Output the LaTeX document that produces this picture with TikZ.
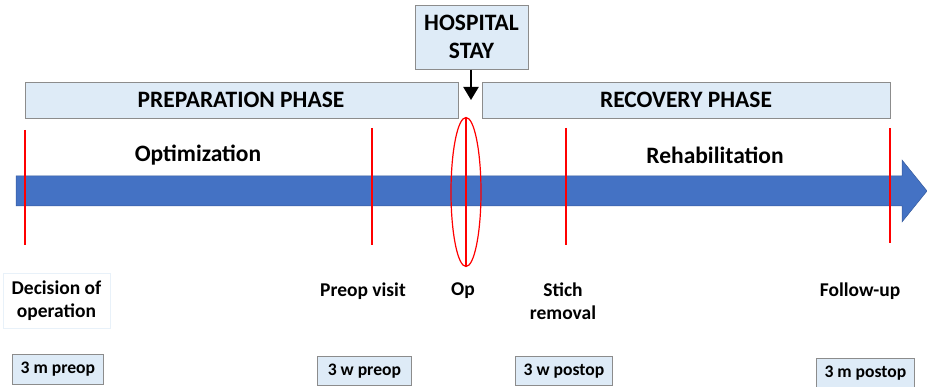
\documentclass[tikz,border=0pt]{standalone}
\usepackage{fontspec}
\setmainfont{Carlito}
\usetikzlibrary{shapes.geometric,arrows.meta}
\definecolor{boxfill}{HTML}{DEEBF7}
\definecolor{boxdraw}{HTML}{8C8C8C}
\definecolor{arrowblue}{HTML}{4472C4}
\definecolor{redline}{HTML}{FF0000}
\tikzset{
  phase/.style={draw=boxdraw, fill=boxfill, line width=0.8pt},
  timebox/.style={draw=boxdraw, fill=boxfill, line width=0.8pt, inner sep=0pt, font=\bfseries\fontsize{17.6}{18}\selectfont},
  bigtxt/.style={font=\bfseries\fontsize{23.5}{28}\selectfont, inner sep=0pt},
  midtxt/.style={font=\bfseries\fontsize{19.5}{23}\selectfont, inner sep=0pt, align=center},
  marker/.style={draw=redline, line width=1.8pt},
}
\begin{document}
\begin{tikzpicture}[x=1pt,y=-1pt]
\useasboundingbox (0,0) rectangle (927,387);
% big arrow
\fill[arrowblue, draw=arrowblue!80!black, line width=0.5pt] (16,176) -- (902,176) -- (902,160) -- (927,191) -- (902,222) -- (902,206) -- (16,206) -- cycle;
% phase boxes
\node[phase, minimum width=433pt, minimum height=36pt, anchor=north west] (prep) at (25,82) {};
\node[bigtxt] at (241,100) {PREPARATION PHASE};
\node[phase, minimum width=408pt, minimum height=36pt, anchor=north west] (rec) at (482,82) {};
\node[bigtxt] at (686,100) {RECOVERY PHASE};
% hospital stay
\node[phase, minimum width=113pt, minimum height=64pt, anchor=north west] (hosp) at (415,5) {};
\node[bigtxt, align=center] at (471.5,37) {HOSPITAL\\STAY};
\coordinate (optip) at (471,100);
\draw[line width=2.2pt, -{Triangle[length=13pt,width=15pt]}] (hosp.south -| optip) -- (optip);
% phase labels
\node[bigtxt] (optim) at (198,155) {Optimization};
\node[bigtxt] (rehab) at (715,155) {Rehabilitation};
% red markers
\coordinate (m1a) at (25,130); \coordinate (m1b) at (25,245);
\coordinate (m2a) at (372,128); \coordinate (m2b) at (372,245);
\coordinate (m3a) at (466,118); \coordinate (m3b) at (466,266);
\coordinate (m4a) at (566,128); \coordinate (m4b) at (566,245);
\coordinate (m5a) at (890,128); \coordinate (m5b) at (890,243);
\draw[marker] (m1a) -- (m1b);
\draw[marker] (m2a) -- (m2b);
\draw[marker] (m3a) -- (m3b);
\draw[marker] (m4a) -- (m4b);
\draw[marker] (m5a) -- (m5b);
\node[draw=redline, line width=1.2pt, ellipse, minimum width=30pt, minimum height=149pt, inner sep=0pt] (opell) at (466,192) {};
% bottom labels
\node[draw=boxfill!70!white, line width=0.6pt, minimum width=107pt, minimum height=55pt, anchor=north west] (decbox) at (3,273) {};
\node[midtxt] (dec) at (56.5,301) {Decision of\\operation};
\node[midtxt] (pre) at (363,291) {Preop visit};
\node[midtxt] (op) at (463,291) {Op};
\node[midtxt] (sti) at (563,301.5) {Stich\\removal};
\node[midtxt] (fol) at (860,291) {Follow-up};
% time boxes
\node[timebox, minimum width=91pt, minimum height=30pt, anchor=north west] (t1) at (12,354) {3 m preop};
\node[timebox, minimum width=94pt, minimum height=29pt, anchor=north west] (t2) at (317,356) {3 w preop};
\node[timebox, minimum width=97pt, minimum height=29pt, anchor=north west] (t3) at (515,356) {3 w postop};
\node[timebox, minimum width=98pt, minimum height=29pt, anchor=north west] (t4) at (816,358) {3 m postop};
\end{tikzpicture}
\end{document}
